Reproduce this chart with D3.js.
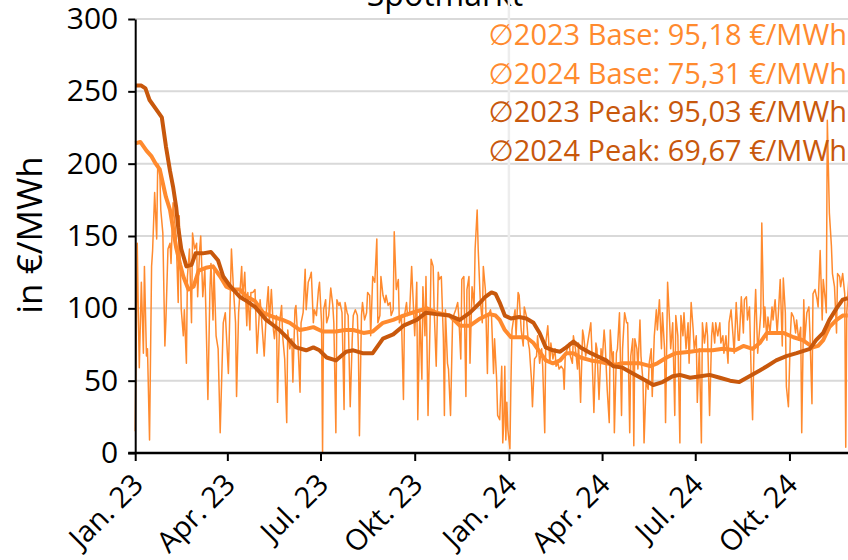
<!DOCTYPE html>
<html>
<head>
<meta charset="utf-8">
<script src="https://cdn.jsdelivr.net/npm/d3@7"></script>
<style>
  body { margin: 0; background: #fff; }
  svg { display: block; font-family: "Open Sans", "DejaVu Sans", sans-serif; }
</style>
</head>
<body>
<script>
// daily spot price (day offset from 1 Jan 2023, €/MWh)
const spot = [
[0,15],[2,145],[3,98],[4,59],[6,118],[8,69],[9,129],[11,67],[12,72],[14,9],[16,129],[17,140],[19,180],[21,148],[22,200],[24,196],[25,168],[27,152],[29,74],[30,92],[32,141],[34,145],[35,131],[37,173],[38,164],[40,150],[42,104],[43,164],[45,99],[47,81],[48,99],[50,62],[51,122],[53,141],[55,90],[56,152],[58,141],[60,145],[61,108],[63,141],[64,150],[66,108],[68,127],[69,99],[71,37],[73,113],[74,131],[76,92],[77,127],[79,81],[81,72],[83,14],[86,90],[88,97],[91,55],[93,113],[94,141],[96,113],[98,90],[99,39],
[101,97],[104,129],[105,106],[107,125],[109,88],[110,111],[112,85],[113,111],[115,111],[117,113],[119,69],[122,106],[123,97],[126,67],[128,97],[130,115],[131,90],[133,113],[135,85],[136,79],[138,95],[139,35],[141,90],[143,102],[144,81],[146,65],[148,21],[149,85],[151,72],[153,79],[154,49],[156,99],[157,102],[159,76],[161,42],[162,90],[164,97],[166,127],[167,99],[169,118],[171,122],[172,125],[174,90],[175,99],[177,95],[179,113],[180,118],[182,90],[183,0],[184,99],[186,106],[187,90],[189,95],[191,114],[193,102],[194,90],[196,14],[197,106],[199,102],
[200,104],[202,97],[204,30],[205,104],[207,97],[208,95],[210,32],[212,79],[213,95],[215,99],[217,95],[218,72],[219,12],[221,95],[222,104],[224,92],[226,97],[227,111],[229,109],[230,81],[232,122],[234,118],[236,148],[237,90],[239,95],[240,122],[242,109],[244,104],[245,109],[247,102],[249,104],[250,95],[252,99],[253,153],[255,113],[257,120],[258,90],[260,95],[262,37],[263,95],[265,104],[266,95],[268,97],[270,129],[271,113],[273,81],[275,118],[276,23],[278,97],[280,51],[281,115],[283,81],[284,122],[286,26],[288,90],[289,134],[291,129],[292,99],[294,60],[296,125],[297,120],[299,122],
[301,79],[302,26],[303,99],[305,62],[306,58],[308,26],[310,92],[311,95],[313,99],[315,104],[316,95],[318,65],[319,120],[321,122],[323,39],[324,113],[326,122],[327,62],[329,115],[331,102],[332,141],[334,168],[335,141],[337,106],[339,90],[340,129],[342,113],[344,55],[345,95],[347,99],[348,95],[350,55],[351,79],[353,51],[354,26],[356,23],[358,60],[359,7],[360,21],[361,60],[362,9],[363,35],[364,16],[366,3],[367,49],[368,85],[369,90],[371,99],[372,81],[374,111],[375,109],[377,85],[379,74],[380,101],[382,95],[384,76],[385,72],[387,51],[388,32],[390,65],[392,67],[393,81],[395,62],[397,72],[398,60],
[400,14],[401,76],[403,88],[405,62],[406,76],[408,65],[410,72],[411,60],[413,62],[414,58],[416,60],[418,58],[419,44],[420,67],[422,72],[424,76],[425,67],[427,62],[428,81],[430,72],[432,58],[433,76],[435,35],[437,85],[438,81],[440,67],[441,72],[443,81],[445,90],[446,72],[448,28],[450,76],[451,72],[453,37],[455,72],[456,62],[458,85],[459,76],[461,44],[463,21],[464,85],[466,62],[467,70],[468,14],[470,69],[471,72],[473,97],[475,26],[476,72],[478,97],[480,90],[481,90],[483,14],[484,67],[486,79],[487,5],[488,79],[490,72],[491,58],[493,92],[494,67],[496,49],[497,7],[499,49],
[501,44],[502,62],[504,72],[505,39],[507,81],[509,99],[510,85],[512,106],[514,72],[515,97],[517,72],[518,21],[520,118],[522,90],[523,72],[525,90],[527,26],[528,95],[530,81],[532,7],[533,95],[535,81],[536,97],[538,72],[540,90],[541,62],[543,104],[545,85],[546,72],[548,81],[549,35],[551,72],[553,7],[554,90],[556,76],[558,90],[559,81],[561,26],[563,81],[564,90],[566,76],[567,90],[569,81],[571,90],[572,76],[574,81],[575,69],[577,81],[579,62],[580,90],[582,99],[584,80],[585,69],[587,104],[589,78],[590,78],[592,108],[594,83],[595,106],[597,108],[598,92],
[600,101],[602,44],[603,23],[605,94],[606,113],[608,69],[610,87],[611,97],[612,159],[614,87],[615,101],[617,78],[618,94],[620,83],[622,101],[623,92],[625,106],[627,83],[628,94],[630,120],[632,74],[633,121],[635,97],[636,46],[638,32],[640,83],[641,97],[643,94],[645,83],[646,92],[648,78],[650,87],[651,14],[653,106],[654,78],[656,97],[658,101],[659,83],[661,34],[662,110],[664,113],[666,106],[667,101],[669,140],[671,92],[672,120],[674,106],[675,97],[676,230],[678,166],[680,143],[681,124],[683,115],[685,83],[686,124],[688,122],[689,115],[691,124],[693,110],[694,4],[695,97],[697,120]
];

// moving averages, base and peak
const baseAvg = [
[0,214],[5,215],[11,209],[16,205],[20,200],[24,196],[30,177],[34,168],[40,142],[44,130],[47,122],[52,113],[57,115],[62,126],[69,128],[76,129],[83,122],[89,115],[95,113],[102,113],[109,108],[117,105],[125,97],[135,94],[144,92],[151,90],[161,85],[168,86],[174,87],[183,84],[196,84],[205,85],[213,85],[223,83],[232,84],[242,90],[252,92],[262,95],[275,98],[285,100],[294,97],[307,95],[317,88],[327,88],[337,93],[346,96],[352,95],[356,92],[361,85],[367,80],[375,80],[382,80],[389,76],[395,70],[401,64],[408,62],[415,64],[421,69],[428,69],[435,66],[445,64],[454,63],[460,62],[469,61],[476,62],[486,62],[493,62],[503,60],[510,62],[519,66],[528,69],[542,70],[552,71],[564,71],[574,72],[586,71],[594,74],[603,72],[610,76],[617,83],[625,83],[633,83],[643,80],[652,78],[662,73],[667,74],[672,78],[678,87],[685,92],[691,95],[696,95]
];
const peakAvg = [
[0,254],[6,254],[10,252],[14,244],[20,238],[26,232],[30,212],[34,195],[37,184],[40,170],[42,156],[45,141],[50,129],[55,130],[59,138],[66,138],[74,139],[81,133],[86,122],[92,116],[102,108],[109,105],[117,101],[128,92],[141,85],[148,80],[157,73],[167,71],[174,73],[180,71],[187,66],[196,64],[206,70],[213,71],[222,69],[232,69],[242,79],[252,82],[262,88],[275,92],[284,97],[294,96],[307,95],[317,92],[327,97],[337,104],[342,108],[348,111],[352,110],[356,104],[361,95],[367,93],[375,94],[382,93],[389,90],[395,83],[401,73],[408,71],[415,70],[421,73],[428,77],[435,73],[445,69],[454,66],[460,64],[467,60],[476,59],[486,55],[499,50],[506,47],[515,49],[525,53],[532,54],[542,52],[552,53],[561,54],[571,52],[581,50],[590,49],[600,53],[610,57],[617,60],[626,64],[636,67],[646,69],[659,72],[665,78],[672,83],[678,92],[685,100],[691,106],[696,107]
];

const yTicks = [0, 50, 100, 150, 200, 250, 300];
const tickDays = [0, 90, 181, 273, 365, 456, 547, 639];
const tickLabels = ["Jan. 23", "Apr. 23", "Jul. 23", "Okt. 23", "Jan. 24", "Apr. 24", "Jul. 24", "Okt. 24"];
const legendLines = [
  "\u22052023 Base: 95,18 €/MWh",
  "\u22052024 Base: 75,31 €/MWh",
  "\u22052023 Peak: 95,03 €/MWh",
  "\u22052024 Peak: 69,67 €/MWh"
];

const lightCol = "#FF8A2E";
const darkCol = "#C8580C";

const W = 848, H = 560;
const svg = d3.select("body").append("svg")
  .attr("width", W)
  .attr("height", H);

const x = d3.scaleLinear().domain([0, 696]).range([135.2, 847.8]);
const y = d3.scaleLinear().domain([0, 300]).range([453, 19]);

// title, cut off at the top
svg.append("text")
  .attr("x", 445).attr("y", 6)
  .attr("text-anchor", "middle")
  .style("font-size", "32px")
  .text("Spotmarkt");

// gridlines
svg.append("g").selectAll("line")
  .data(yTicks.slice(1))
  .enter().append("line")
  .attr("x1", x(0)).attr("x2", W)
  .attr("y1", d => y(d)).attr("y2", d => y(d))
  .attr("stroke", "#D9D9D9")
  .attr("stroke-width", 2);

// year separator
svg.append("line")
  .attr("x1", x(365)).attr("x2", x(365))
  .attr("y1", 0).attr("y2", y(0))
  .attr("stroke", "#EDEDED")
  .attr("stroke-width", 2.5);

const line = d3.line().x(d => x(d[0])).y(d => y(d[1]));

svg.append("path").datum(spot)
  .attr("d", line)
  .attr("fill", "none")
  .attr("stroke", lightCol)
  .attr("stroke-width", 1.5)
  .attr("stroke-linejoin", "round");

svg.append("path").datum(baseAvg)
  .attr("d", line)
  .attr("fill", "none")
  .attr("stroke", lightCol)
  .attr("stroke-width", 4)
  .attr("stroke-linejoin", "round");

svg.append("path").datum(peakAvg)
  .attr("d", line)
  .attr("fill", "none")
  .attr("stroke", darkCol)
  .attr("stroke-width", 4)
  .attr("stroke-linejoin", "round");

// y axis
const yAxis = svg.append("g")
  .attr("transform", `translate(${x(0)},0)`)
  .call(d3.axisLeft(y).tickValues(yTicks).tickSize(7).tickSizeOuter(0).tickPadding(10));
yAxis.select(".domain").attr("stroke", "#000").attr("stroke-width", 2);
yAxis.selectAll(".tick line").attr("stroke", "#000").attr("stroke-width", 2);
yAxis.selectAll("text")
  .style("font-size", "30px")
  .style("font-family", "Open Sans")
  .attr("fill", "#000");

// x axis
const xAxis = svg.append("g")
  .attr("transform", `translate(0,${y(0)})`)
  .call(d3.axisBottom(x).tickValues(tickDays)
    .tickFormat((d, i) => tickLabels[i])
    .tickSize(8).tickSizeOuter(0));
xAxis.select(".domain").attr("stroke", "#000").attr("stroke-width", 2.5)
  .attr("d", `M${x(0) - 7},0H${W}`);
xAxis.selectAll(".tick line").attr("stroke", "#000").attr("stroke-width", 2);
xAxis.selectAll("text")
  .attr("x", 0).attr("y", 0).attr("dy", "0.35em")
  .attr("transform", "translate(2,26) rotate(-45)")
  .style("text-anchor", "end")
  .style("font-size", "29px")
  .style("font-family", "Open Sans")
  .attr("fill", "#000");

// y title
svg.append("text")
  .attr("transform", "translate(42,235) rotate(-90)")
  .attr("text-anchor", "middle")
  .style("font-size", "35px")
  .text("in €/MWh");

// legend text
svg.append("g").selectAll("text")
  .data(legendLines)
  .enter().append("text")
  .attr("x", 847)
  .attr("y", (d, i) => 45 + i * 38.5)
  .attr("text-anchor", "end")
  .attr("fill", (d, i) => i < 2 ? lightCol : darkCol)
  .style("font-size", "29px")
  .text(d => d);
</script>
</body>
</html>
